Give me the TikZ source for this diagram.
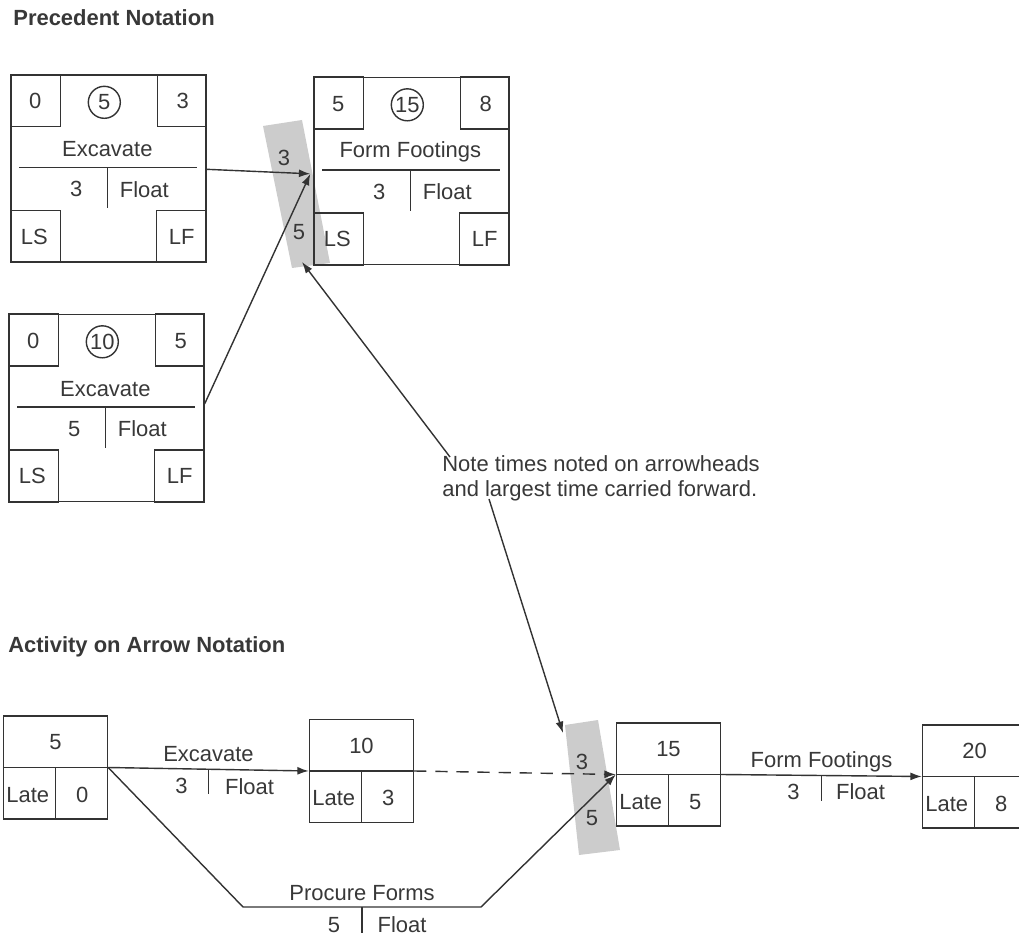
\documentclass[tikz,border=0pt]{standalone}
\usepackage{fontspec}
\setmainfont{Liberation Sans}
\usetikzlibrary{arrows.meta,calc}

\begin{document}
\begin{tikzpicture}[x=0.02cm,y=-0.02cm,
	every node/.style={font=\fontsize{12.5}{14.5}\selectfont,text=black!78},
	ln/.style={line width=0.8pt,draw=black!80},
	pbox/.style={ln,rectangle,minimum width=3.9cm,minimum height=3.74cm,inner sep=0pt},
	abox/.style={ln,rectangle,minimum width=2.08cm,minimum height=2.06cm,inner sep=0pt},
	arr/.style={ln,-{Latex[length=6.5pt,width=4.5pt]}},
	band/.style={fill=black!20},
	title/.style={font=\fontsize{12.5}{14.5}\selectfont\bfseries,anchor=west,inner sep=0pt}]
				\useasboundingbox (0,0) rectangle (1019,939);
				\clip (0,0) rectangle (1019,939);
				% grey bands behind the arrowheads
				\fill[band] (263,126) -- (302,120) -- (330,263) -- (292,268) -- cycle;
				\fill[band] (565,725) -- (598,720) -- (620,850) -- (579,855) -- cycle;
				\node[title] (ttl1) at (13,18) {Precedent Notation};
				\node[title] (ttl2) at (8,647) {Activity on Arrow Notation};
				% precedent boxes
				\node[pbox] (pa) at (108.5,168.5) {};
				\node[pbox] (pb) at (411.5,171) {};
				\node[pbox] (pc) at (106.5,408) {};
				\foreach \b/\es/\id/\ef/\nm/\dur in {pa/0/5/3/Excavate/3,pb/5/15/8/Form Footings/3,pc/0/10/5/Excavate/5}{
					\draw[ln] (\b.north west) rectangle ++(50,52);
					\draw[ln] (\b.north east) rectangle ++(-49,52);
					\draw[ln] (\b.south west) rectangle ++(50,-52);
					\draw[ln] (\b.south east) rectangle ++(-50,-52);
					\draw[ln] ($(\b.north west)+(9,93)$) -- ($(\b.north east)+(-10,93)$);
					\draw[ln] ($(\b.north west)+(97,93)$) -- ++(0,41);
					\node (\b-es) at ($(\b.north west)+(25,27)$) {\es};
					\node[circle,ln,minimum size=0.64cm,inner sep=0pt] (\b-id) at ($(\b.north west)+(94,28)$) {\id};
					\node (\b-ef) at ($(\b.north east)+(-24,27)$) {\ef};
					\node (\b-nm) at ($(\b.north west)+(97,75)$) {\nm};
					\node (\b-dur) at ($(\b.north west)+(66,115)$) {\dur};
					\node (\b-fl) at ($(\b.north west)+(134,115)$) {Float};
					\node (\b-ls) at ($(\b.south west)+(24,-26)$) {LS};
					\node (\b-lf) at ($(\b.south east)+(-25,-26)$) {LF};
				}
				\coordinate (pa-out) at ($(pa.north east)+(0,95)$);
				\coordinate (pc-out) at ($(pc.north east)+(0,90)$);
				\coordinate (pb-in) at ($(pb.north west)+(-3,97)$);
				\draw[arr] (pa-out) -- (pb-in);
				\draw[arr] (pc-out) -- (pb-in);
				\node (bu3) at (284,158) {3};
				\node (bu5) at (299,232) {5};
				% note
				\node[align=left,anchor=north west,inner sep=0pt] (note) at (442,455) {Note times noted on arrowheads\\and largest time carried forward.};
				\coordinate (note-up) at (450,457);
				\coordinate (note-dn) at (489,499);
				\coordinate (band-up) at (302,262);
				\coordinate (band-dn) at (563,733);
				\draw[arr] (note-up) -- (band-up);
				\draw[arr] (note-dn) -- (band-dn);
				% activity on arrow
				\node[abox] (ea) at (55.5,767.5) {};
				\node[abox] (eb) at (361.5,771) {};
				\node[abox] (ec) at (668.5,774.5) {};
				\node[abox] (ed) at (974.5,776.5) {};
				\foreach \b/\ev/\lt in {ea/5/0,eb/10/3,ec/15/5,ed/20/8}{
					\draw[ln] (\b.west) -- (\b.east);
					\draw[ln] (\b.center) -- (\b.south);
					\node (\b-ev) at ($(\b.north)+(0,27)$) {\ev};
					\node (\b-lt) at ($(\b.south west)+(25,-25)$) {Late};
					\node (\b-lv) at ($(\b.south east)+(-26,-25)$) {\lt};
				}
				\node (bl3) at (582,762) {3};
				\node (bl5) at (592,818) {5};
				\coordinate (pf1) at (243,907);
				\coordinate (pf2) at (481,907);
				\draw[arr] (ea.east) -- (eb.west);
				\draw[arr,dash pattern=on 7pt off 5pt] (eb.east) -- (ec.west);
				\draw[arr] (ea.east) -- (pf1) -- (pf2) -- (ec.west);
				\draw[arr] (ec.east) -- (ed.west);
				\draw[ln] ($(ea.east)!.5!(eb.west)$) coordinate (t1) -- ++(0,25);
				\draw[ln] ($(pf1)!.5!(pf2)$) coordinate (t2) -- ++(0,26);
				\draw[ln] ($(ec.east)!.5!(ed.west)$) coordinate (t3) -- ++(0,25);
				\node (l1) at ($(t1)+(0,-15)$) {Excavate};
				\node (l1-d) at ($(t1)+(-27,17)$) {3};
				\node (l1-f) at ($(t1)+(41,17)$) {Float};
				\node (l2) at ($(t2)+(0,-14)$) {Procure Forms};
				\node (l2-d) at ($(t2)+(-28,18)$) {5};
				\node (l2-f) at ($(t2)+(40,18)$) {Float};
				\node (l3) at ($(t3)+(0,-14)$) {Form Footings};
				\node (l3-d) at ($(t3)+(-28,16)$) {3};
				\node (l3-f) at ($(t3)+(39,16)$) {Float};
				\end{tikzpicture}
\end{document}
